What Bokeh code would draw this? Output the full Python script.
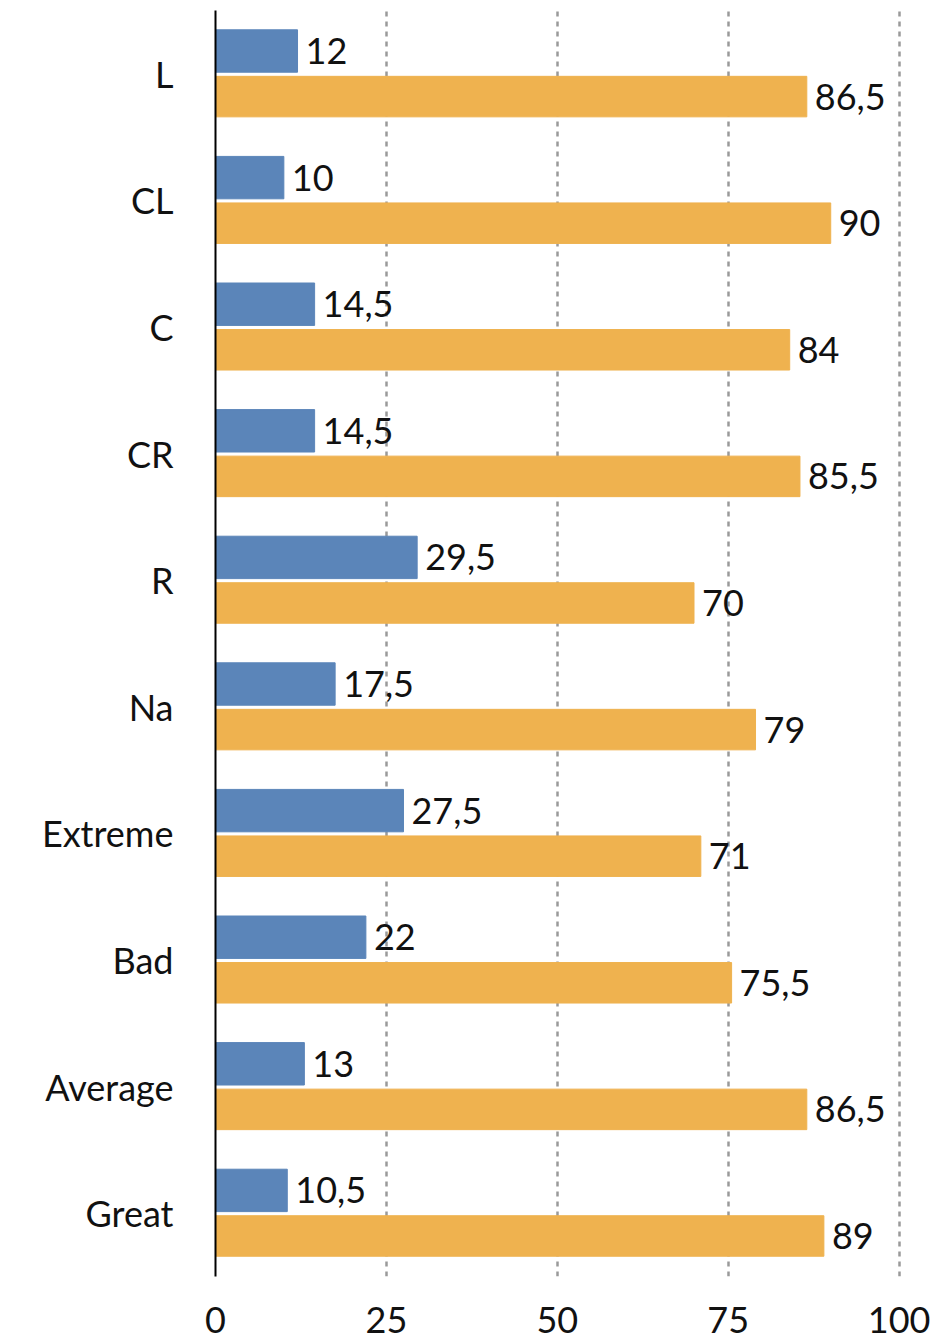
from bokeh.plotting import figure
from bokeh.models import ColumnDataSource, FixedTicker, Range1d
from bokeh.core.properties import value
from bokeh.embed import file_html
from bokeh.resources import INLINE

categories = ["L", "CL", "C", "CR", "R", "Na", "Extreme", "Bad", "Average", "Great"]
blue_vals = [12, 10, 14.5, 14.5, 29.5, 17.5, 27.5, 22, 13, 10.5]
orange_vals = [86.5, 90, 84, 85.5, 70, 79, 71, 75.5, 86.5, 89]
x_ticks = [0, 25, 50, 75, 100]

BLUE = "#5B85B9"
ORANGE = "#EFB24F"
FONT = "Lato"
FS = "36px"

n = len(categories)
pos = [n - 1 - i for i in range(n)]
fmt = lambda v: (f"{v:g}").replace(".", ",")

src_b = ColumnDataSource(dict(y=[p + 0.18 for p in pos], v=blue_vals, t=[fmt(v) for v in blue_vals]))
src_o = ColumnDataSource(dict(y=[p - 0.18 for p in pos], v=orange_vals, t=[fmt(v) for v in orange_vals]))

p = figure(width=944, height=1340, output_backend="svg", toolbar_location=None,
           x_range=Range1d(0, 100.5), y_range=Range1d(-0.5, n - 0.5),
           min_border_left=215, min_border_right=42, min_border_top=10, min_border_bottom=64)
p.outline_line_color = None

p.hbar(y="y", right="v", left=0, height=0.335, color=BLUE, source=src_b)
p.hbar(y="y", right="v", left=0, height=0.32, color=ORANGE, source=src_o)

for s in (src_b, src_o):
    p.text(x="v", y="y", text="t", source=s, x_offset=8, text_baseline="middle",
           text_align="left", text_font=value(FONT), text_font_size=FS, text_color="#111111")

p.xaxis.ticker = FixedTicker(ticks=x_ticks)
p.xaxis.axis_line_color = None
p.xaxis.major_tick_line_color = None
p.xaxis.minor_tick_line_color = None
p.xaxis.major_label_text_font = FONT
p.xaxis.major_label_text_font_size = FS
p.xaxis.major_label_text_color = "#111111"
p.xaxis.major_label_standoff = 24

p.yaxis.ticker = FixedTicker(ticks=pos)
p.yaxis.major_label_overrides = {pp: c for pp, c in zip(pos, categories)}
p.yaxis.axis_line_color = "black"
p.yaxis.axis_line_width = 2
p.yaxis.major_tick_line_color = None
p.yaxis.minor_tick_line_color = None
p.yaxis.major_label_text_font = FONT
p.yaxis.major_label_text_font_size = FS
p.yaxis.major_label_text_color = "#111111"
p.yaxis.major_label_standoff = 36

p.xgrid.ticker = FixedTicker(ticks=[25, 50, 75, 100])
p.xgrid.grid_line_color = "#9a9a9a"
p.xgrid.grid_line_width = 2.5
p.xgrid.grid_line_dash = "5 5"
p.ygrid.grid_line_color = None

open("out.html", "w").write(file_html(p, INLINE))
